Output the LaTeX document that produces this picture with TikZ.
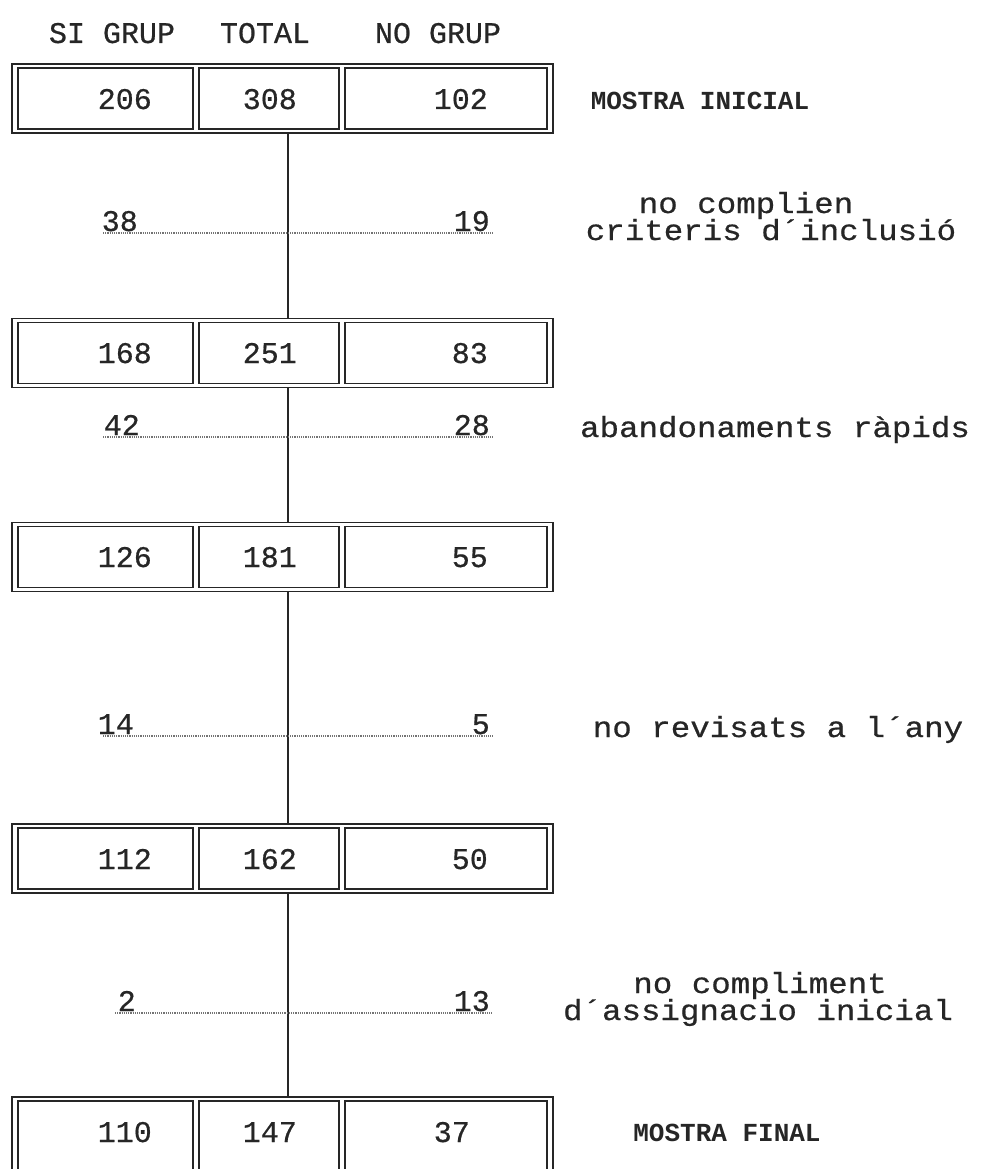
\documentclass[tikz,border=0pt]{standalone}
\usepackage{fontspec}
\setmonofont[FakeBold=0.6]{Liberation Mono}
\newfontfamily\labmono[FakeStretch=1.12,FakeBold=0.6]{Liberation Mono}
\newfontfamily\bmono{Liberation Mono}
\begin{document}
\begin{tikzpicture}[x=1pt,y=-1pt,
  txt/.style={font=\ttfamily\fontsize{30}{30}\selectfont, inner sep=0pt, text=black!85},
  lab/.style={font=\labmono\fontsize{29}{29}\selectfont, inner sep=0pt, text=black!85},
  bld/.style={font=\bmono\bfseries\fontsize{26}{26}\selectfont, inner sep=0pt, text=black!85},
  outerbox/.style={draw=black!85, line width=1.8pt, minimum width=541pt, minimum height=69pt, inner sep=0pt},
  cellbox/.style={draw=black!85, line width=1.8pt, minimum height=61pt, inner sep=0pt},
  vline/.style={draw=black!85, line width=1.8pt},
  dotline/.style={draw=black!55, line width=1.2pt, densely dotted}]
\useasboundingbox (0,0) rectangle (983,1169);
\clip (0,0) rectangle (983,1169);
\coordinate (vx) at (288,0);
% header
\node[txt, anchor=base] (h1) at (112,43) {SI GRUP};
\node[txt, anchor=base] (h2) at (265,43) {TOTAL};
\node[txt, anchor=base] (h3) at (438,43) {NO GRUP};
% rows
\foreach \r/\yc in {1/98.5, 2/353, 3/557, 4/858.5}{
  \node[outerbox] (r\r) at (282.5,\yc) {};
  \node[cellbox, minimum width=175pt] (c\r a) at (105.5,\yc) {};
  \node[cellbox, minimum width=140pt] (c\r b) at (269,\yc) {};
  \node[cellbox, minimum width=202pt] (c\r c) at (446,\yc) {};
}
\node[outerbox, minimum height=80pt] (r5) at (282.5,1137) {};
\node[cellbox, minimum height=72pt, minimum width=175pt] (c5a) at (105.5,1137) {};
\node[cellbox, minimum height=72pt, minimum width=140pt] (c5b) at (269,1137) {};
\node[cellbox, minimum height=72pt, minimum width=202pt] (c5c) at (446,1137) {};
\node[txt, anchor=base east] (n1a) at (152,109) {206};
\node[txt, anchor=base east] (n1b) at (297,109) {308};
\node[txt, anchor=base east] (n1c) at (488,109) {102};
\node[txt, anchor=base east] (n2a) at (152,363) {168};
\node[txt, anchor=base east] (n2b) at (297,363) {251};
\node[txt, anchor=base east] (n2c) at (488,363) {83};
\node[txt, anchor=base east] (n3a) at (152,567) {126};
\node[txt, anchor=base east] (n3b) at (297,567) {181};
\node[txt, anchor=base east] (n3c) at (488,567) {55};
\node[txt, anchor=base east] (n4a) at (152,869) {112};
\node[txt, anchor=base east] (n4b) at (297,869) {162};
\node[txt, anchor=base east] (n4c) at (488,869) {50};
\node[txt, anchor=base east] (n5a) at (152,1142) {110};
\node[txt, anchor=base east] (n5b) at (297,1142) {147};
\node[txt, anchor=base east] (n5c) at (470,1142) {37};
% vertical connectors
\draw[vline] (r1.south -| vx) -- (r2.north -| vx);
\draw[vline] (r2.south -| vx) -- (r3.north -| vx);
\draw[vline] (r3.south -| vx) -- (r4.north -| vx);
\draw[vline] (r4.south -| vx) -- (r5.north -| vx);
% dotted lines
\coordinate (d1a) at (103,233); \coordinate (d1b) at (493,233);
\coordinate (d2a) at (103,437); \coordinate (d2b) at (493,437);
\coordinate (d3a) at (103,736); \coordinate (d3b) at (493,736);
\coordinate (d4a) at (115,1013); \coordinate (d4b) at (493,1013);
\draw[dotline] (d1a) -- (d1b);
\draw[dotline] (d2a) -- (d2b);
\draw[dotline] (d3a) -- (d3b);
\draw[dotline] (d4a) -- (d4b);
\node[txt, anchor=base east] (e1a) at (138,231) {38};
\node[txt, anchor=base east] (e1b) at (490,231) {19};
\node[txt, anchor=base east] (e2a) at (140,435) {42};
\node[txt, anchor=base east] (e2b) at (490,435) {28};
\node[txt, anchor=base east] (e3a) at (134,734) {14};
\node[txt, anchor=base east] (e3b) at (490,734) {5};
\node[txt, anchor=base east] (e4a) at (136,1011) {2};
\node[txt, anchor=base east] (e4b) at (490,1011) {13};
% right labels
\node[bld, anchor=base] (m1) at (700,110) {MOSTRA INICIAL};
\node[lab, anchor=base] (t1a) at (746,213) {no complien};
\node[lab, anchor=base] (t1b) at (771,240) {criteris d´inclusió};
\node[lab, anchor=base] (t2) at (775,437) {abandonaments ràpids};
\node[lab, anchor=base] (t3) at (778,737) {no revisats a l´any};
\node[lab, anchor=base] (t4a) at (760,993) {no compliment};
\node[lab, anchor=base] (t4b) at (758,1020) {d´assignacio inicial};
\node[bld, anchor=base] (m2) at (727,1141) {MOSTRA FINAL};
\end{tikzpicture}
\end{document}
